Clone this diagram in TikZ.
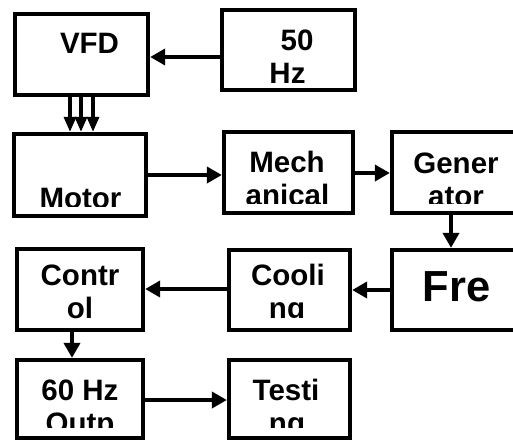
\documentclass[tikz,border=0pt]{standalone}
\usepackage{fontspec}
\setmainfont{Liberation Sans}
\usetikzlibrary{arrows.meta}
\tikzset{
  blk/.style={draw=black, line width=4.3pt, inner sep=0pt, fill=none},
  txt/.style={inner sep=0pt, anchor=base, font=\fontsize{29.5}{34}\selectfont\bfseries},
  bigtxt/.style={inner sep=0pt, anchor=base, font=\fontsize{43.5}{48}\selectfont\bfseries},
  arr/.style={line width=4pt, -{Triangle[length=15pt,width=16pt]}},
  thinarr/.style={line width=3.3pt, -{Triangle[length=15pt,width=12pt]}}
}
\begin{document}
\begin{tikzpicture}[x=1pt,y=-1pt]
\useasboundingbox (0,0) rectangle (513,442);
\clip (0,0) rectangle (513,442);
\fill[white] (0,0) rectangle (513,442);

% boxes
\node[blk, minimum width=133pt, minimum height=81pt] (vfd) at (81.5,54.5) {};
\node[blk, minimum width=133pt, minimum height=80pt] (hz) at (288.5,50) {};
\node[blk, minimum width=132pt, minimum height=82pt] (motor) at (80,175) {};
\node[blk, minimum width=129pt, minimum height=81pt] (mech) at (288.5,172.5) {};
\node[blk, minimum width=131pt, minimum height=81pt] (gen) at (457.5,172.5) {};
\node[blk, minimum width=126pt, minimum height=81pt] (ctrl) at (80,289.5) {};
\node[blk, minimum width=121pt, minimum height=80pt] (cool) at (289.5,290) {};
\node[blk, minimum width=131pt, minimum height=80pt] (fre) at (457.5,290) {};
\node[blk, minimum width=126pt, minimum height=78pt] (out) at (80,399) {};
\node[blk, minimum width=121pt, minimum height=78pt] (test) at (289.5,399) {};

% texts
\node[txt] (tvfd) at (89.5,53) {VFD};
\node[txt] (t50) at (297,50) {50};
\node[txt] (thz) at (287.5,83) {Hz};
\begin{scope}
  \clip (16,136) rectangle (144,206);
  \node[txt] (tmotor) at (80.5,208) {Motor};
\end{scope}
\begin{scope}
  \clip (226,134) rectangle (351,203);
  \node[txt] (tmech1) at (287,172) {Mech};
  \node[txt] (tmech2) at (287.5,205) {anical};
\end{scope}
\begin{scope}
  \clip (394,134) rectangle (513,203);
  \node[txt] (tgen1) at (456,173) {Gener};
  \node[txt] (tgen2) at (456,206) {ator};
\end{scope}
\begin{scope}
  \clip (19,251) rectangle (141,318);
  \node[txt] (tctrl1) at (80,285) {Contr};
  \node[txt] (tctrl2) at (80,318) {ol};
\end{scope}
\begin{scope}
  \clip (231,252) rectangle (348,317);
  \node[txt] (tcool1) at (288,285) {Cooli};
  \node[txt] (tcool2) at (287,318) {ng};
\end{scope}
\node[bigtxt] (tfre) at (456.5,301) {Fre};
\begin{scope}
  \clip (19,362) rectangle (141,427);
  \node[txt] (tout1) at (80,400) {60 Hz};
  \node[txt] (tout2) at (80,433) {Outp};
\end{scope}
\begin{scope}
  \clip (231,362) rectangle (348,427);
  \node[txt] (ttest1) at (286,400) {Testi};
  \node[txt] (ttest2) at (287,433) {ng};
\end{scope}

% connector levels
\coordinate (y57) at (0,57);
\coordinate (y175) at (0,175);
\coordinate (y173) at (0,173);
\coordinate (y290) at (0,290);
\coordinate (y289) at (0,289);
\coordinate (y400) at (0,400);
\coordinate (x70) at (70,0);
\coordinate (x81) at (81,0);
\coordinate (x93) at (93,0);
\coordinate (x72) at (72,0);
\coordinate (x451) at (451,0);

% connectors
\draw[arr] (hz.west |- y57) -- (vfd.east |- y57);
\draw[thinarr] (x70 |- vfd.south) -- (x70 |- motor.north);
\draw[thinarr] (x81 |- vfd.south) -- (x81 |- motor.north);
\draw[thinarr] (x93 |- vfd.south) -- (x93 |- motor.north);
\draw[arr] (motor.east |- y175) -- (mech.west |- y175);
\draw[arr] (mech.east |- y173) -- (gen.west |- y173);
\draw[arr] (x451 |- gen.south) -- (x451 |- fre.north);
\draw[arr] (fre.west |- y290) -- (cool.east |- y290);
\draw[arr] (cool.west |- y289) -- (ctrl.east |- y289);
\draw[arr] (x72 |- ctrl.south) -- (x72 |- out.north);
\draw[arr] (out.east |- y400) -- (test.west |- y400);
\end{tikzpicture}
\end{document}
